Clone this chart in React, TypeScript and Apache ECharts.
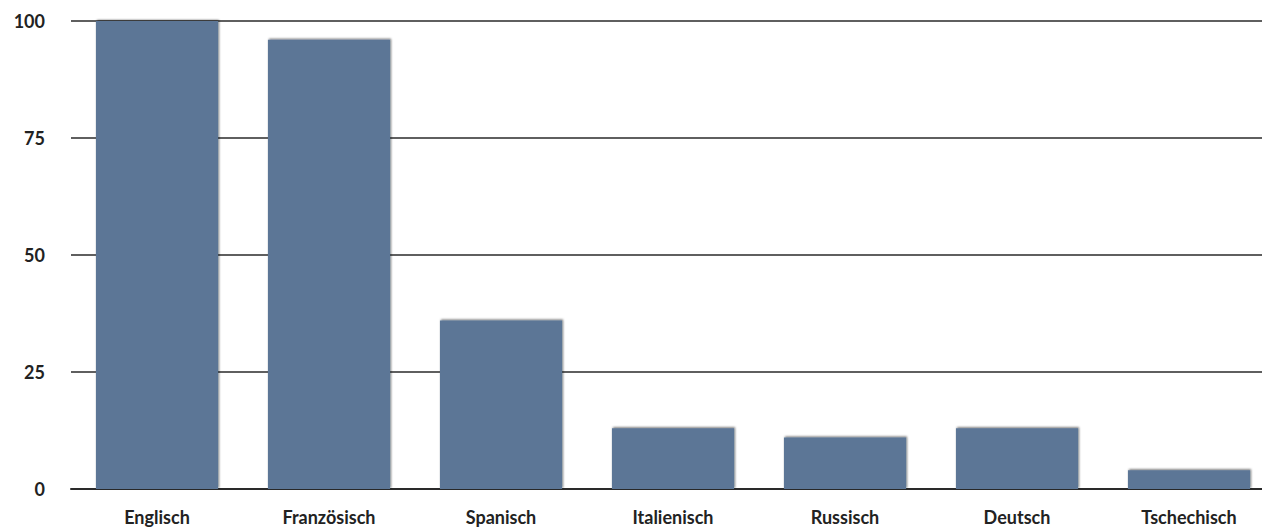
import React, { useEffect, useRef } from "react";
import * as echarts from "echarts";

const categories = ["Englisch", "Französisch", "Spanisch", "Italienisch", "Russisch", "Deutsch", "Tschechisch"];
const values = [100, 96, 36, 13, 11, 13, 4];
const yTicks = [0, 25, 50, 75, 100];

export default function App() {
  const ref = useRef<HTMLDivElement>(null);
  useEffect(() => {
    const chart = echarts.init(ref.current!, null, { renderer: "svg" });
    chart.setOption({
      animation: false,
      backgroundColor: "#ffffff",
      grid: { left: 71, right: 0, top: 21, bottom: 43, containLabel: false },
      xAxis: {
        type: "category",
        data: categories,
        axisLine: { show: true, lineStyle: { color: "#2a2a2a", width: 2 } },
        axisTick: { show: false },
        axisLabel: {
          color: "#222",
          fontFamily: "Lato, 'Open Sans', sans-serif",
          fontSize: 18,
          fontWeight: "bold",
          margin: 19,
          interval: 0,
        },
      },
      yAxis: {
        type: "value",
        min: yTicks[0],
        max: yTicks[yTicks.length - 1],
        interval: 25,
        axisLine: { show: false },
        axisTick: { show: false },
        splitLine: { lineStyle: { color: "#2a2a2a", width: 1.5 } },
        axisLabel: {
          color: "#222",
          fontFamily: "Lato, 'Open Sans', sans-serif",
          fontSize: 18,
          fontWeight: "bold",
          margin: 26,
          padding: [7, 0, 0, 0],
        },
      },
      series: [
        {
          type: "bar",
          data: values,
          barCategoryGap: "29%",
          itemStyle: {
            color: "#5b7696",
            shadowColor: "rgba(0,0,0,0.55)",
            shadowBlur: 2,
            shadowOffsetX: 1,
            shadowOffsetY: -1,
          },
        },
      ],
    });
    return () => chart.dispose();
  }, []);
  return (
    <div
      ref={ref}
      style={{ position: "fixed", left: 0, top: 0, width: 1275, height: 532 }}
    />
  );
}
